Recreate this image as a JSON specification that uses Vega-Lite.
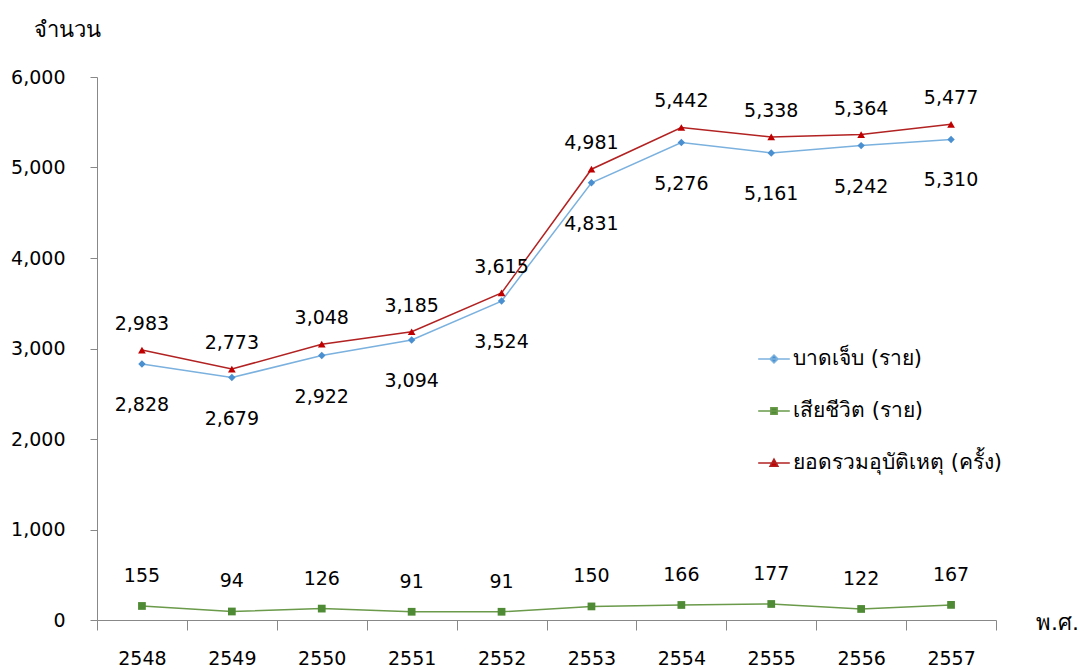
{
  "$schema": "https://vega.github.io/schema/vega-lite/v6.json",
  "width": 899,
  "height": 543,
  "autosize": "none",
  "padding": {"left": 97, "top": 77, "right": 88, "bottom": 50},
  "background": "white",
  "config": {
    "font": "DejaVu Sans",
    "view": {"stroke": null},
    "axis": {"labelFont": "DejaVu Sans", "titleFont": "DejaVu Sans"},
    "legend": {"labelFont": "DejaVu Sans"}
  },
  "data": {
    "values": [
      {"year": "2548", "series": "บาดเจ็บ (ราย)", "value": 2828},
      {"year": "2549", "series": "บาดเจ็บ (ราย)", "value": 2679},
      {"year": "2550", "series": "บาดเจ็บ (ราย)", "value": 2922},
      {"year": "2551", "series": "บาดเจ็บ (ราย)", "value": 3094},
      {"year": "2552", "series": "บาดเจ็บ (ราย)", "value": 3524},
      {"year": "2553", "series": "บาดเจ็บ (ราย)", "value": 4831},
      {"year": "2554", "series": "บาดเจ็บ (ราย)", "value": 5276},
      {"year": "2555", "series": "บาดเจ็บ (ราย)", "value": 5161},
      {"year": "2556", "series": "บาดเจ็บ (ราย)", "value": 5242},
      {"year": "2557", "series": "บาดเจ็บ (ราย)", "value": 5310},
      {"year": "2548", "series": "เสียชีวิต (ราย)", "value": 155},
      {"year": "2549", "series": "เสียชีวิต (ราย)", "value": 94},
      {"year": "2550", "series": "เสียชีวิต (ราย)", "value": 126},
      {"year": "2551", "series": "เสียชีวิต (ราย)", "value": 91},
      {"year": "2552", "series": "เสียชีวิต (ราย)", "value": 91},
      {"year": "2553", "series": "เสียชีวิต (ราย)", "value": 150},
      {"year": "2554", "series": "เสียชีวิต (ราย)", "value": 166},
      {"year": "2555", "series": "เสียชีวิต (ราย)", "value": 177},
      {"year": "2556", "series": "เสียชีวิต (ราย)", "value": 122},
      {"year": "2557", "series": "เสียชีวิต (ราย)", "value": 167},
      {"year": "2548", "series": "ยอดรวมอุบัติเหตุ (ครั้ง)", "value": 2983},
      {"year": "2549", "series": "ยอดรวมอุบัติเหตุ (ครั้ง)", "value": 2773},
      {"year": "2550", "series": "ยอดรวมอุบัติเหตุ (ครั้ง)", "value": 3048},
      {"year": "2551", "series": "ยอดรวมอุบัติเหตุ (ครั้ง)", "value": 3185},
      {"year": "2552", "series": "ยอดรวมอุบัติเหตุ (ครั้ง)", "value": 3615},
      {"year": "2553", "series": "ยอดรวมอุบัติเหตุ (ครั้ง)", "value": 4981},
      {"year": "2554", "series": "ยอดรวมอุบัติเหตุ (ครั้ง)", "value": 5442},
      {"year": "2555", "series": "ยอดรวมอุบัติเหตุ (ครั้ง)", "value": 5338},
      {"year": "2556", "series": "ยอดรวมอุบัติเหตุ (ครั้ง)", "value": 5364},
      {"year": "2557", "series": "ยอดรวมอุบัติเหตุ (ครั้ง)", "value": 5477}
    ]
  },
  "encoding": {
    "x": {
      "field": "year", "type": "ordinal",
      "scale": {"paddingInner": 0, "paddingOuter": 0},
      "axis": {
        "labelAngle": 0, "tickBand": "extent", "domainColor": "#888888", "tickColor": "#888888",
        "tickSize": 10, "labelPadding": 19, "labelFontSize": 19, "labelColor": "#000000",
        "title": "พ.ศ.", "titleFontSize": 22, "titleFontWeight": "normal", "titleColor": "#000000",
        "titleX": 960, "titleY": 2, "titleAlign": "center", "titleBaseline": "middle", "titleAngle": 0
      }
    },
    "y": {
      "field": "value", "type": "quantitative",
      "scale": {"domain": [0, 6000], "nice": false},
      "axis": {
        "values": [0, 1000, 2000, 3000, 4000, 5000, 6000], "format": ",d", "grid": false,
        "domainColor": "#888888", "tickColor": "#888888", "tickSize": 7, "labelPadding": 25,
        "labelFontSize": 19, "labelColor": "#000000",
        "title": "จำนวน", "titleFontSize": 22, "titleFontWeight": "normal", "titleColor": "#000000",
        "titleAngle": 0, "titleX": -30, "titleY": -48, "titleAlign": "center", "titleBaseline": "middle"
      }
    }
  },
  "layer": [
    {
      "mark": {"type": "line", "strokeWidth": 1.5},
      "encoding": {
        "color": {
          "field": "series", "type": "nominal",
          "sort": ["บาดเจ็บ (ราย)", "เสียชีวิต (ราย)", "ยอดรวมอุบัติเหตุ (ครั้ง)"],
          "scale": {"range": ["#7BB1DE", "#6A9A4A", "#B22222"]},
          "legend": {
            "title": null, "orient": "none", "legendX": 660, "legendY": 265,
            "labelFontSize": 21, "labelColor": "#000000", "rowPadding": 25, "labelLimit": 400,
            "symbolSize": 1000, "symbolStrokeWidth": 1.5, "labelOffset": 2,
            "encode": {
              "symbols": {
                "update": {
                  "shape": {"signal": "datum.value === 'บาดเจ็บ (ราย)' ? 'M-1,0L1,0M0,-0.25L0.25,0L0,0.25L-0.25,0Z' : datum.value === 'เสียชีวิต (ราย)' ? 'M-1,0L1,0M-0.2,-0.2L0.2,-0.2L0.2,0.2L-0.2,0.2Z' : 'M-1,0L1,0M0,-0.25L0.25,0.2L-0.25,0.2Z'"},
                  "fill": {"signal": "datum.value === 'บาดเจ็บ (ราย)' ? '#4A8FD0' : datum.value === 'เสียชีวิต (ราย)' ? '#4F8A34' : '#C00000'"},
                  "stroke": {"scale": "color", "field": "value"},
                  "strokeWidth": {"value": 1.5},
                  "size": {"value": 1000},
                  "opacity": {"value": 1}
                }
              }
            }
          }
        }
      }
    },
    {
      "transform": [{"filter": "datum.series === 'บาดเจ็บ (ราย)'"}],
      "mark": {"type": "point", "filled": true, "opacity": 1, "size": 55, "shape": "diamond", "color": "#4A8FD0"},
      "encoding": {}
    },
    {
      "transform": [{"filter": "datum.series === 'เสียชีวิต (ราย)'"}],
      "mark": {"type": "point", "filled": true, "opacity": 1, "size": 60, "shape": "square", "color": "#4F8A34"},
      "encoding": {}
    },
    {
      "transform": [{"filter": "datum.series === 'ยอดรวมอุบัติเหตุ (ครั้ง)'"}],
      "mark": {"type": "point", "filled": true, "opacity": 1, "size": 60, "shape": "triangle-up", "color": "#C00000"},
      "encoding": {}
    },
    {
      "transform": [{"filter": "datum.series === 'ยอดรวมอุบัติเหตุ (ครั้ง)'"}],
      "mark": {"type": "text", "dy": -26, "fontSize": 19, "color": "#000000"},
      "encoding": {"text": {"field": "value", "type": "quantitative", "format": ","}}
    },
    {
      "transform": [{"filter": "datum.series === 'บาดเจ็บ (ราย)'"}],
      "mark": {"type": "text", "dy": 41, "fontSize": 19, "color": "#000000"},
      "encoding": {"text": {"field": "value", "type": "quantitative", "format": ","}}
    },
    {
      "transform": [{"filter": "datum.series === 'เสียชีวิต (ราย)'"}],
      "mark": {"type": "text", "dy": -30, "fontSize": 19, "color": "#000000"},
      "encoding": {"text": {"field": "value", "type": "quantitative", "format": ","}}
    }
  ]
}
